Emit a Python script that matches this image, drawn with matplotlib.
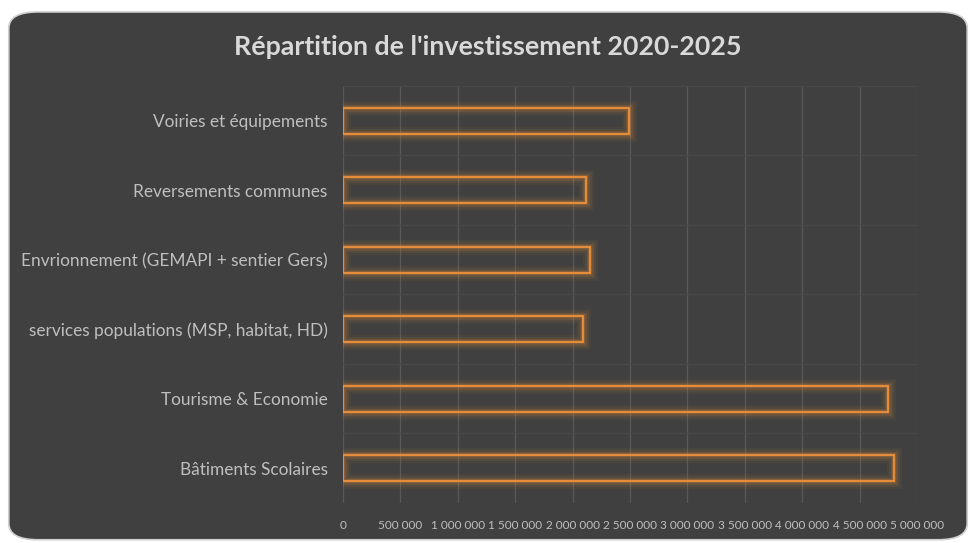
# coding:utf-8
# Répartition de l'investissement 2020-2025 : barres horizontales, contour orange lumineux
from matplotlib import pyplot as plt
from matplotlib import patheffects as pe
from matplotlib.patches import FancyBboxPatch
from matplotlib.ticker import FuncFormatter, MultipleLocator

plt.rcParams['font.family'] = ['Lato', 'DejaVu Sans']

categories = ['Voiries et équipements', 'Reversements communes',
              'Envrionnement (GEMAPI + sentier Gers)',
              'services populations (MSP, habitat, HD)',
              'Tourisme & Economie', 'Bâtiments Scolaires']
values = [2490000, 2120000, 2150000, 2095000, 4745000, 4800000]
x_ticks = list(range(0, 5000001, 500000))

bg = '#404040'
orange = '#f0913a'
text_col = '#bfbfbf'

fig = plt.figure(figsize=(9.76, 5.43), dpi=100, facecolor='white')
card = FancyBboxPatch((0.009, 0.006), 0.982, 0.972, transform=fig.transFigure,
                      boxstyle='round,pad=0,rounding_size=0.03',
                      facecolor=bg, edgecolor='#d0d0d0', linewidth=1.2, zorder=-5)
fig.patches.append(card)

ax = fig.add_axes([0.3514, 0.0737, 0.5881, 0.768])
ax.set_facecolor('none')
ax.set_zorder(2)

pos = list(range(len(categories)))
bars = ax.barh(pos, values, height=0.375, facecolor='none', edgecolor=orange,
               linewidth=1.3, zorder=3)
for b in bars:
    b.set_path_effects([
        pe.Stroke(linewidth=11, foreground=orange, alpha=0.05),
        pe.Stroke(linewidth=8, foreground=orange, alpha=0.08),
        pe.Stroke(linewidth=5, foreground=orange, alpha=0.14),
        pe.Stroke(linewidth=3, foreground=orange, alpha=0.2),
        pe.Normal(),
    ])

ax.set_ylim(len(categories) - 0.5, -0.5)
ax.set_xlim(0, 5000000)
ax.set_xticks(x_ticks)
ax.xaxis.set_major_formatter(FuncFormatter(lambda v, p: '{:,}'.format(int(v)).replace(',', ' ')))
ax.set_yticks(pos)
ax.set_yticklabels(categories)
ax.yaxis.set_minor_locator(MultipleLocator(1, offset=0.5))

ax.grid(axis='x', which='major', color='#595959', linewidth=0.9, zorder=0)
ax.grid(axis='y', which='minor', color='#484848', linewidth=0.9, zorder=0)
ax.tick_params(axis='y', which='both', length=0, pad=11, labelsize=12.4, labelcolor=text_col)
ax.tick_params(axis='x', length=0, pad=12, labelsize=8.5, labelcolor=text_col)
for s in ax.spines.values():
    s.set_visible(False)

fig.text(0.5, 0.913, "Répartition de l'investissement 2020-2025", ha='center', va='center',
         fontsize=19.3, fontweight='bold', color='#d9d9d9')

plt.savefig('out.png', dpi=100, facecolor=fig.get_facecolor())
